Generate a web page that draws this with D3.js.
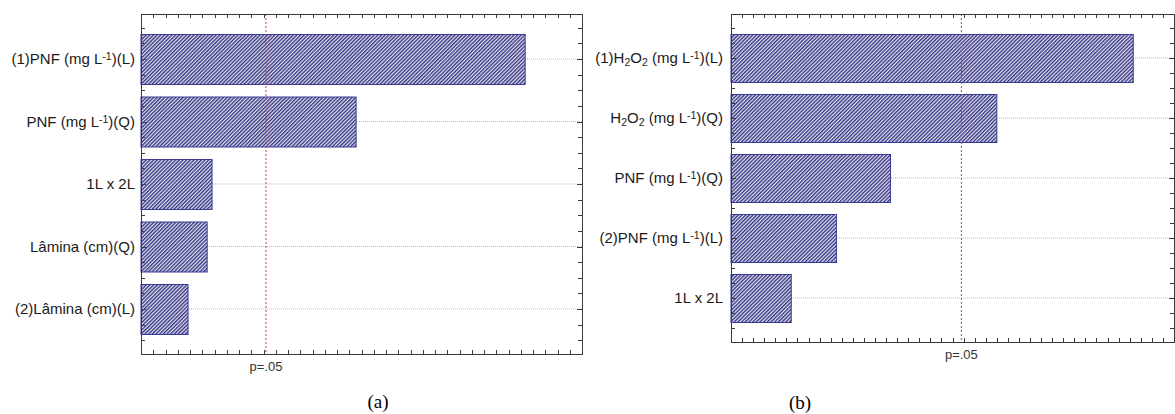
<!DOCTYPE html>
<html>
<head>
<meta charset="utf-8">
<script src="https://cdn.jsdelivr.net/npm/d3@7"></script>
<style>
  html, body { margin: 0; padding: 0; background: #fff; }
  svg { display: block; }
</style>
</head>
<body>
<svg id="chart" width="1175" height="414"></svg>
<script>
// ---------- DATA ----------
const categoriesA = ["(1)PNF (mg L^{-1})(L)", "PNF (mg L^{-1})(Q)", "1L x 2L", "Lâmina (cm)(Q)", "(2)Lâmina (cm)(L)"];
const valuesA = [7.84, 4.39, 1.45, 1.35, 0.96];
const xMaxA = 9;
const pCritA = 2.55;

const categoriesB = ["(1)H_{2}O_{2} (mg L^{-1})(L)", "H_{2}O_{2} (mg L^{-1})(Q)", "PNF (mg L^{-1})(Q)", "(2)PNF (mg L^{-1})(L)", "1L x 2L"];
const valuesB = [4.54, 3.00, 1.80, 1.19, 0.68];
const xMaxB = 5;
const pCritB = 2.60;

const pLabel = "p=.05";
const panelLabels = ["(a)", "(b)"];

// ---------- DRAW ----------
const svg = d3.select("#chart");
svg.append("rect").attr("width", 1175).attr("height", 414).attr("fill", "#fff");

const defs = svg.append("defs");
const pat = defs.append("pattern")
  .attr("id", "hatch").attr("patternUnits", "userSpaceOnUse")
  .attr("width", 2.6).attr("height", 2.6)
  .attr("patternTransform", "rotate(45)");
pat.append("rect").attr("width", 2.6).attr("height", 2.6).attr("fill", "#e4e4f0");
pat.append("line").attr("x1", 0.7).attr("y1", 0).attr("x2", 0.7).attr("y2", 2.6)
  .attr("stroke", "#2a2a7c").attr("stroke-width", 1.3);

function richText(sel, str) {
  const re = /(\^\{[^}]*\}|_\{[^}]*\})/g;
  const parts = str.split(re).filter(s => s.length);
  parts.forEach(p => {
    if (p.startsWith("^{")) {
      sel.append("tspan").attr("font-size", "10.5px").attr("baseline-shift", "35%").text(p.slice(2, -1));
    } else if (p.startsWith("_{")) {
      sel.append("tspan").attr("font-size", "10.5px").attr("baseline-shift", "-25%").text(p.slice(2, -1));
    } else {
      sel.append("tspan").text(p);
    }
  });
}

function panel(cfg) {
  const { left, right, top, bottom, cats, vals, xMax, xStep, pCrit, labelX, pad, panelLabel, plx, ply } = cfg;
  const g = svg.append("g");
  const x = d3.scaleLinear().domain([0, xMax]).range([left, right]);
  const y = d3.scaleBand().domain(cats).range([top, bottom]).paddingInner(0.2).paddingOuter(pad);
  const bw = y.bandwidth();
  const step = y.step();

  g.selectAll("line.grid").data(cats).join("line")
    .attr("x1", left).attr("x2", right)
    .attr("y1", d => y(d) + bw / 2).attr("y2", d => y(d) + bw / 2)
    .attr("stroke", "#b8b8b8").attr("stroke-width", 1).attr("stroke-dasharray", "1,1");

  g.selectAll("rect.bar").data(vals).join("rect")
    .attr("x", x(0)).attr("y", (d, i) => y(cats[i]) + 0.5)
    .attr("width", d => x(d) - x(0)).attr("height", bw)
    .attr("fill", "url(#hatch)").attr("stroke", "#3a3a96").attr("stroke-width", 1);

  g.append("line")
    .attr("x1", x(pCrit)).attr("x2", x(pCrit)).attr("y1", top).attr("y2", bottom)
    .attr("stroke", "#c0404a").attr("stroke-width", 1).attr("stroke-dasharray", "2,2");

  g.append("rect").attr("x", left + 0.5).attr("y", top + 0.5)
    .attr("width", right - left).attr("height", bottom - top)
    .attr("fill", "none").attr("stroke", "#3a3a3a").attr("stroke-width", 1);

  const xt = d3.range(0, xMax + 1e-9, xStep);
  g.selectAll("line.xtb").data(xt).join("line")
    .attr("x1", d => Math.round(x(d)) + 0.5).attr("x2", d => Math.round(x(d)) + 0.5)
    .attr("y1", bottom).attr("y2", bottom - 4)
    .attr("stroke", "#3a3a3a");
  g.selectAll("line.xtt").data(xt).join("line")
    .attr("x1", d => Math.round(x(d)) + 0.5).attr("x2", d => Math.round(x(d)) + 0.5)
    .attr("y1", top).attr("y2", top + 4)
    .attr("stroke", "#3a3a3a");

  const c0 = y(cats[0]) + bw / 2;
  const yt = [];
  for (let k = -8; k <= cats.length * 4 + 8; k++) {
    const p = c0 + k * step / 4;
    if (p > top + 2 && p < bottom - 2) yt.push({ p, major: k % 4 === 0 });
  }
  g.selectAll("line.ytl").data(yt).join("line")
    .attr("x1", left).attr("x2", d => left + (d.major ? 5 : 4))
    .attr("y1", d => Math.round(d.p) + 0.5).attr("y2", d => Math.round(d.p) + 0.5)
    .attr("stroke", "#3a3a3a");
  g.selectAll("line.ytr").data(yt).join("line")
    .attr("x1", right).attr("x2", d => right - (d.major ? 5 : 4))
    .attr("y1", d => Math.round(d.p) + 0.5).attr("y2", d => Math.round(d.p) + 0.5)
    .attr("stroke", "#3a3a3a");

  cats.forEach(c => {
    const t = g.append("text")
      .attr("x", labelX).attr("y", y(c) + bw / 2).attr("dy", "0.36em")
      .attr("text-anchor", "end")
      .attr("font-family", "Arial, 'Liberation Sans', sans-serif")
      .attr("font-size", "15px").attr("fill", "#1a1a1a");
    richText(t, c);
  });

  g.append("text").attr("x", x(pCrit)).attr("y", bottom + 17)
    .attr("text-anchor", "middle")
    .attr("font-family", "Arial, 'Liberation Sans', sans-serif")
    .attr("font-size", "13px").attr("fill", "#333").text(pLabel);

  g.append("text").attr("x", plx).attr("y", ply).attr("text-anchor", "middle")
    .attr("font-family", "'Liberation Serif', 'Times New Roman', serif")
    .attr("font-size", "19px").attr("fill", "#000").text(panelLabel);
}

panel({ left: 141, right: 582, top: 14, bottom: 354, cats: categoriesA, vals: valuesA,
  xMax: xMaxA, xStep: 0.25, pCrit: pCritA, labelX: 135, pad: 0.32,
  panelLabel: panelLabels[0], plx: 378, ply: 408 });
panel({ left: 731, right: 1174, top: 14, bottom: 342, cats: categoriesB, vals: valuesB,
  xMax: xMaxB, xStep: 0.125, pCrit: pCritB, labelX: 723, pad: 0.333,
  panelLabel: panelLabels[1], plx: 800, ply: 409 });
</script>
</body>
</html>
